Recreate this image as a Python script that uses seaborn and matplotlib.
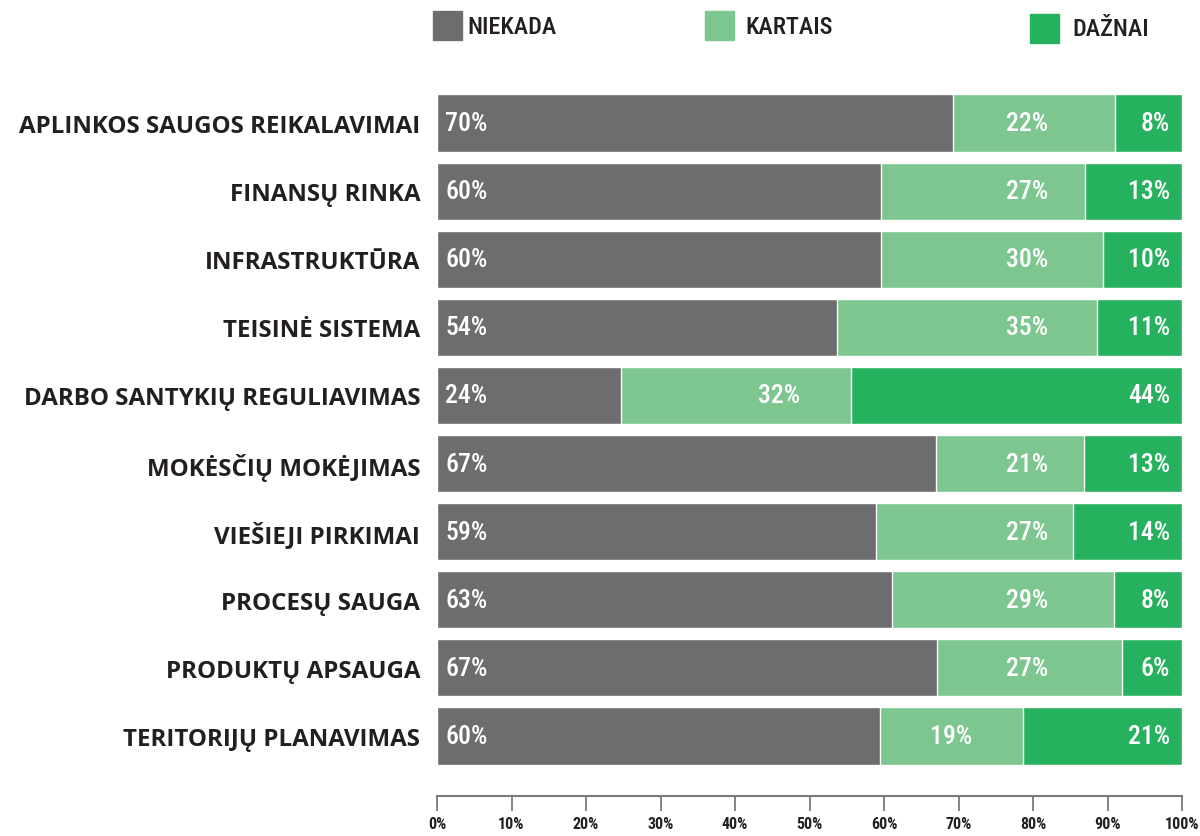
import matplotlib.pyplot as plt
import matplotlib.patches as mpatches
import numpy as np
import pandas as pd
import seaborn as sns

categories = ["APLINKOS SAUGOS REIKALAVIMAI", "FINANSŲ RINKA", "INFRASTRUKTŪRA",
              "TEISINĖ SISTEMA", "DARBO SANTYKIŲ REGULIAVIMAS", "MOKĖSČIŲ MOKĖJIMAS",
              "VIEŠIEJI PIRKIMAI", "PROCESŲ SAUGA", "PRODUKTŲ APSAUGA",
              "TERITORIJŲ PLANAVIMAS"]
# bar lengths (percent of the row)
niekada = [69.3, 59.6, 59.6, 53.7, 24.7, 67.0, 58.9, 61.1, 67.1, 59.5]
kartais = [21.7, 27.4, 29.8, 34.9, 30.9, 19.9, 26.5, 29.8, 24.8, 19.2]
daznai = [9.0, 13.0, 10.6, 11.4, 44.4, 13.1, 14.6, 9.1, 8.1, 21.3]
# printed labels
niekada_lbl = [70, 60, 60, 54, 24, 67, 59, 63, 67, 60]
kartais_lbl = [22, 27, 30, 35, 32, 21, 27, 29, 27, 19]
daznai_lbl = [8, 13, 10, 11, 44, 13, 14, 8, 6, 21]
series = ["NIEKADA", "KARTAIS", "DAŽNAI"]
colors = ["#6d6c6e", "#7dc68f", "#26b15e"]

df = pd.DataFrame({"cat": categories, "n": niekada, "k": kartais, "d": daznai})
df["nk"] = df["n"] + df["k"]
df["nkd"] = df["nk"] + df["d"]

sns.set_style("white")
plt.rcParams["font.family"] = ["DejaVu Sans"]
cond = "Roboto Condensed"

fig = plt.figure(figsize=(12, 8.37), dpi=100)
ax = fig.add_axes([437 / 1200, 66 / 837, 745 / 1200, 681 / 837])

sns.barplot(data=df, y="cat", x="nkd", color=colors[2], width=0.84, saturation=1, ax=ax, orient="h")
sns.barplot(data=df, y="cat", x="nk", color=colors[1], width=0.84, saturation=1, ax=ax, orient="h")
sns.barplot(data=df, y="cat", x="n", color=colors[0], width=0.84, saturation=1, ax=ax, orient="h")

lbl = dict(color="white", fontsize=18.5, fontweight="medium", family=cond, va="center")
for i in range(len(categories)):
    ax.text(1.1, i, f"{niekada_lbl[i]}%", ha="left", **lbl)
    end = df["nk"][i]
    xk = 82 if end > 84 else end - 6.8
    ax.text(xk, i, f"{kartais_lbl[i]}%", ha="right", **lbl)
    ax.text(98.4, i, f"{daznai_lbl[i]}%", ha="right", **lbl)

# spine first: moving it rebuilds the ticks
for s in ["top", "right", "left"]:
    ax.spines[s].set_visible(False)
ax.spines["bottom"].set_position(("outward", 19))
ax.spines["bottom"].set_color("#7a7a7a")
ax.spines["bottom"].set_linewidth(1.5)

ax.set_xlim(0, 100)
ax.set_ylim(9.5, -0.5)
ax.set_xlabel("")
ax.set_ylabel("")
ax.set_xticks(np.arange(0, 101, 10))
ax.set_xticklabels([f"{t}%" for t in range(0, 101, 10)], family=cond, fontweight="bold",
                   fontsize=11.5, color="#231f20")
ax.set_yticks(range(len(categories)))
ax.set_yticklabels(categories, family="Open Sans", fontweight="bold", fontsize=17.4,
                   color="#231f20")
ax.tick_params(axis="y", length=0, pad=12)
ax.tick_params(axis="x", bottom=True, direction="out", length=11, width=1.3, color="#7a7a7a", pad=3)

# legend
leg_pos = [(433, 12, 467), (705, 12, 745), (1030, 15, 1072)]
for (x0, y0, tx), name, c in zip(leg_pos, series, colors):
    fig.patches.append(mpatches.Rectangle((x0 / 1200, 1 - (y0 + 29) / 837), 29 / 1200, 29 / 837,
                                          transform=fig.transFigure, color=c))
    fig.text(tx / 1200, 1 - (y0 + 15) / 837, name, family=cond, fontweight="medium",
             fontsize=17.5, color="#231f20", ha="left", va="center")

fig.savefig("out.png", dpi=100)
